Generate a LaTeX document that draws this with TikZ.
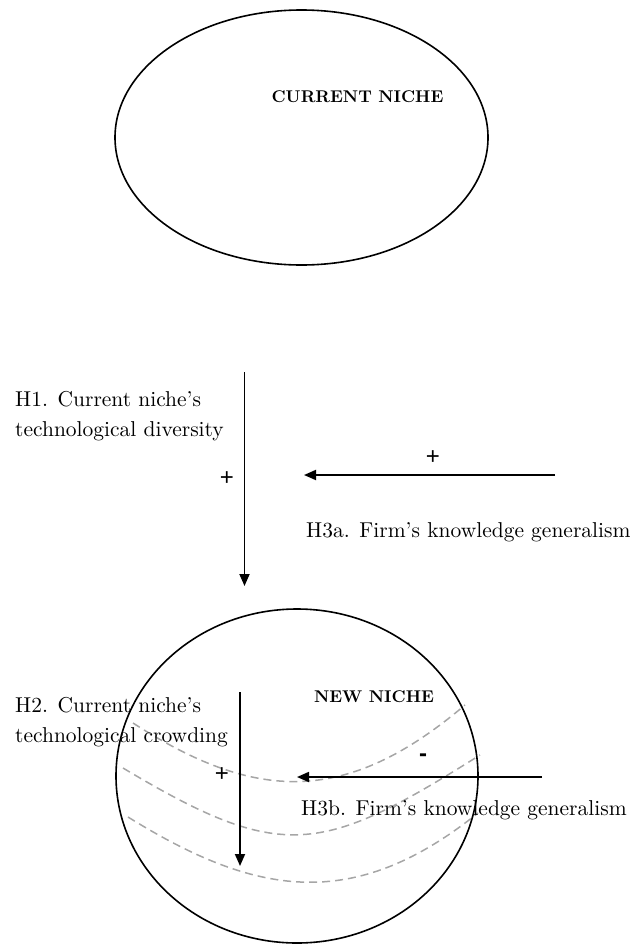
\documentclass[tikz,border=0pt]{standalone}
\usepackage{fontspec}
\setmainfont{lmroman10-regular.otf}[BoldFont=lmroman10-bold.otf]
\newfontfamily\signfont{Liberation Sans}
\usetikzlibrary{shapes.geometric,arrows.meta}

\begin{document}
\begin{tikzpicture}[x=1pt, y=-1pt,
    niche/.style={draw=black, line width=1.6pt, ellipse, inner sep=0pt},
    nichename/.style={font=\fontsize{17}{20}\selectfont\bfseries, inner sep=0pt, anchor=base},
    hyp/.style={font=\fontsize{21.5}{30}\selectfont, align=left, inner sep=0pt, anchor=base west},
    sign/.style={font=\signfont\fontsize{24}{28}\selectfont, inner sep=0pt, anchor=base},
    effect/.style={line width=1.8pt, -{Triangle[length=12pt, width=10pt]}},
    band/.style={draw=black!35, line width=1.5pt, dash pattern=on 8pt off 5pt}]
  \useasboundingbox (0,0) rectangle (637,945);
  %
  \node[niche, minimum width=373, minimum height=255] (current) at (301.5,137.5) {};
  \node[nichename] (currentname) at (357.5,102) {CURRENT NICHE};
  %
  \node[hyp] (hone) at (15,436) {H1. Current niche’s\\technological diversity};
  \coordinate (divtop) at (244.5,372);
  \coordinate (divend) at (244.5,586);
  \draw[effect] (divtop) -- (divend);
  \node[sign] (plusone) at (227,485) {+};
  %
  \node[hyp] (hthreea) at (306,537) {H3a. Firm’s knowledge generalism};
  \coordinate (gena) at (555,475);
  \coordinate (genaend) at (304,475);
  \draw[effect] (gena) -- (genaend);
  \node[sign] (plusthreea) at (433,464) {+};
  %
  % crowding bands
  \draw[band] (133,723) .. controls (254,801) and (345,807) .. (465,705);
  \draw[band] (123,768) .. controls (282,863) and (321,855) .. (480,755);
  \draw[band] (128,817) .. controls (254,895) and (352,914) .. (478,813);
  %
  \node[niche, minimum width=362, minimum height=334] (new) at (297,776) {};
  \node[nichename] (newname) at (374,702) {NEW NICHE};
  %
  \node[hyp] (htwo) at (15,742) {H2. Current niche’s\\technological crowding};
  \coordinate (crowdtop) at (240,692);
  \coordinate (crowdend) at (240,866);
  \draw[effect] (crowdtop) -- (crowdend);
  \node[sign] (plustwo) at (222,781) {+};
  %
  \node[hyp] (hthreeb) at (301,815) {H3b. Firm’s knowledge generalism};
  \coordinate (genb) at (542,777);
  \coordinate (genbend) at (297,777);
  \draw[effect] (genb) -- (genbend);
  \node[sign, font=\signfont\fontsize{24}{28}\selectfont\bfseries] (minusthreeb) at (423,761) {-};
\end{tikzpicture}
\end{document}
